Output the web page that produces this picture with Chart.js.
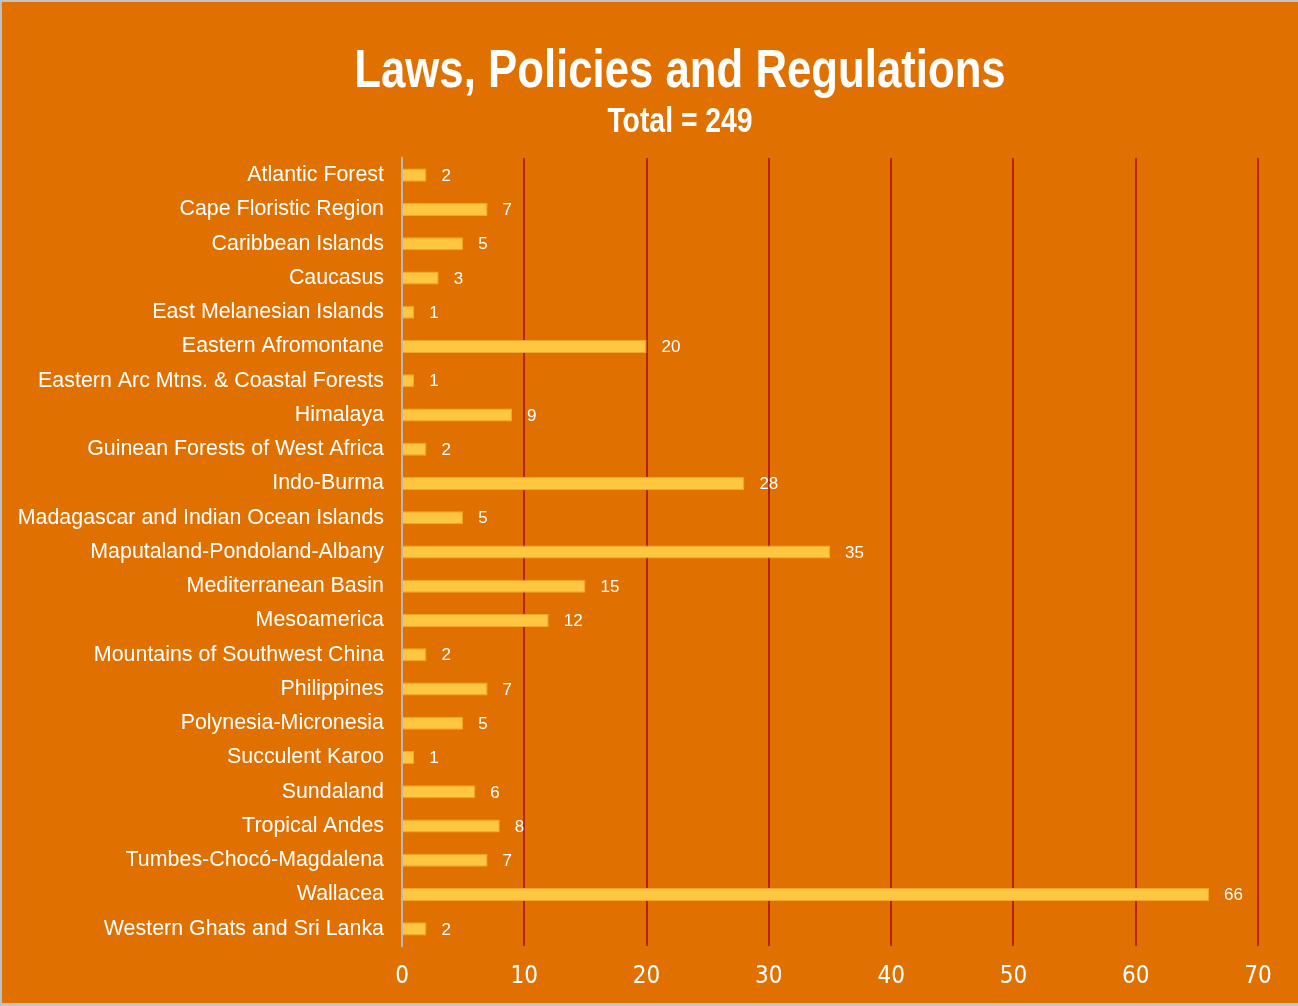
<!DOCTYPE html>
<html>
<head>
<meta charset="utf-8">
<script src="https://cdn.jsdelivr.net/npm/chart.js@4"></script>
<style>
  html, body { margin: 0; padding: 0; background: #fff; }
  #wrap {
    width: 1298px; height: 1006px; box-sizing: border-box;
    border-top: 2px solid #c4c4c4; border-left: 2px solid #b8c0c8; border-bottom: 3px solid #c4c4c4;
    background: #e07000;
  }
</style>
</head>
<body>
<div id="wrap"><canvas id="mycanvas"></canvas></div>
<script>
var hotspots = ["Atlantic Forest", "Cape Floristic Region", "Caribbean Islands", "Caucasus",
    "East Melanesian Islands", "Eastern Afromontane", "Eastern Arc Mtns. & Coastal Forests",
    "Himalaya", "Guinean Forests of West Africa", "Indo-Burma", "Madagascar and Indian Ocean Islands",
    "Maputaland-Pondoland-Albany", "Mediterranean Basin", "Mesoamerica", "Mountains of Southwest China",
    "Philippines", "Polynesia-Micronesia", "Succulent Karoo", "Sundaland", "Tropical Andes",
    "Tumbes-Chocó-Magdalena", "Wallacea", "Western Ghats and Sri Lanka"];
var counts = [2, 7, 5, 3, 1, 20, 1, 9, 2, 28, 5, 35, 15, 12, 2, 7, 5, 1, 6, 8, 7, 66, 2];
var titleText = "Laws, Policies and Regulations";
var subtitleText = "Total = 249";

// narrow bold title, drawn by hand because no condensed font is installed
var narrowTitle = {
    id: "narrowTitle",
    afterDraw: function (chart) {
        var ctx = chart.ctx;
        ctx.save();
        ctx.fillStyle = "#ffffff";
        ctx.textAlign = "center";
        ctx.textBaseline = "alphabetic";
        ctx.translate(678, 0);
        ctx.scale(0.81, 1);
        ctx.font = "bold 54px 'Liberation Sans', Arial, sans-serif";
        ctx.fillText(titleText, 0, 85);
        ctx.font = "bold 35px 'Liberation Sans', Arial, sans-serif";
        ctx.fillText(subtitleText, 0, 130);
        ctx.restore();
    }
};

// draws the value next to each bar
var valueLabels = {
    id: "valueLabels",
    afterDatasetsDraw: function (chart) {
        var ctx = chart.ctx;
        var meta = chart.getDatasetMeta(0);
        ctx.save();
        ctx.fillStyle = "#ffffff";
        ctx.font = "17px 'Liberation Sans', Arial, sans-serif";
        ctx.textAlign = "left";
        ctx.textBaseline = "middle";
        meta.data.forEach(function (bar, i) {
            ctx.fillText(String(counts[i]), bar.x + 15, bar.y + 1);
        });
        ctx.restore();
    }
};

var ctx = document.getElementById("mycanvas");
var chart = new Chart(ctx, {
    type: "bar",
    data: {
        labels: hotspots,
        datasets: [{
            data: counts,
            backgroundColor: "#ffc640",
            borderColor: "#f0a630",
            borderWidth: 1,
            barPercentage: 0.76,
            categoryPercentage: 0.5
        }]
    },
    options: {
        indexAxis: "y",
        responsive: true,
        maintainAspectRatio: false,
        animation: false,
        layout: { padding: { left: 0, right: 40, top: 156, bottom: 0 } },
        plugins: {
            legend: { display: false },
            tooltip: { enabled: false },
            title: { display: false },
            subtitle: { display: false }
        },
        scales: {
            x: {
                min: 0,
                max: 70,
                afterFit: function (scale) { scale.height = 57; },
                ticks: {
                    stepSize: 10,
                    color: "#ffffff",
                    padding: 16,
                    font: { family: "'DejaVu Sans Condensed', 'Liberation Sans', Arial, sans-serif", size: 24 }
                },
                grid: {
                    color: function (c) { return c.index === 0 ? "rgba(0,0,0,0)" : "#b8201a"; },
                    lineWidth: 2,
                    drawTicks: false
                },
                border: { display: false }
            },
            y: {
                afterFit: function (scale) { scale.width = 400; },
                ticks: {
                    color: "#ffffff",
                    padding: 18,
                    autoSkip: false,
                    font: { family: "'Liberation Sans', Arial, sans-serif", size: 21.4 }
                },
                grid: { display: false, drawTicks: false },
                border: { display: true, color: "#b8b8b8", width: 2 }
            }
        }
    },
    plugins: [valueLabels, narrowTitle]
});
</script>
</body>
</html>
